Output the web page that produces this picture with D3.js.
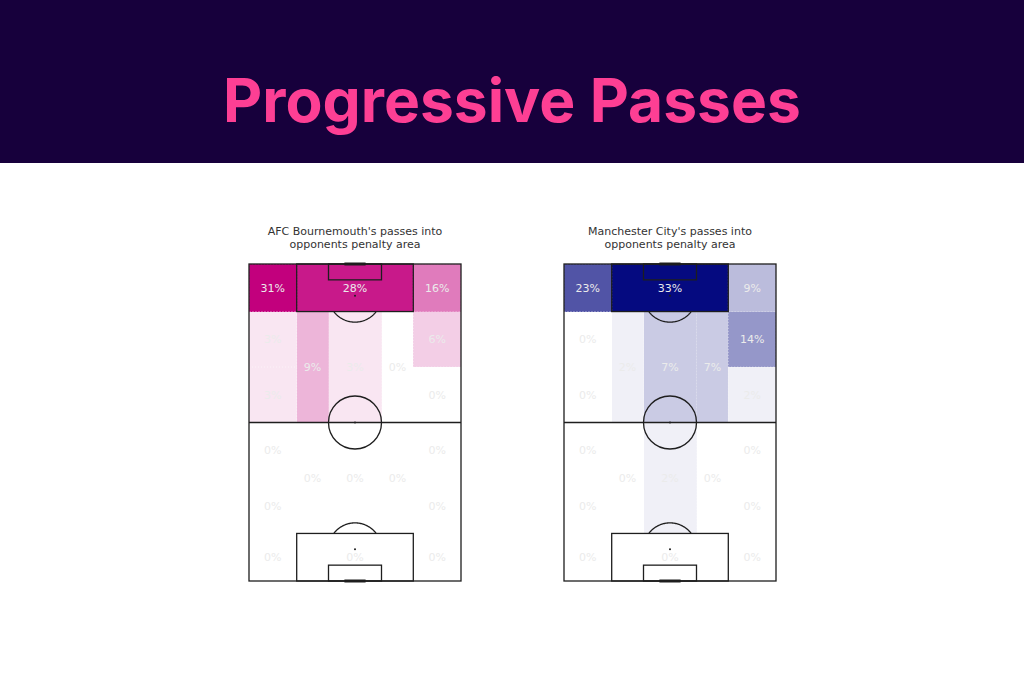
<!DOCTYPE html>
<html>
<head>
<meta charset="utf-8">
<script src="https://cdn.jsdelivr.net/npm/d3@7"></script>
<style>
  html, body { margin: 0; padding: 0; background: #ffffff; }
  svg { display: block; }
</style>
</head>
<body>
<svg id="chart" width="1024" height="683"></svg>
<script>
// ---------- DATA ----------
const chartTitle = "Progressive Passes";
const teams = ["AFC Bournemouth", "Manchester City"];
const panelTitles = [
  ["AFC Bournemouth's passes into", "opponents penalty area"],
  ["Manchester City's passes into", "opponents penalty area"]
];
// positional zones (attacking upwards)
const zones = [
  "Opp. penalty area", "Left wing (final)", "Right wing (final)",
  "Left wide upper", "Left wide lower", "Left half-space", "Centre", "Right half-space",
  "Right wide upper", "Right wide lower",
  "Own penalty area", "Left wing (own)", "Right wing (own)",
  "Own left wide upper", "Own left wide lower", "Own left half-space", "Own centre",
  "Own right half-space", "Own right wide upper", "Own right wide lower"
];
const bournemouthPct = [28, 31, 16, 3, 3, 9, 3, 0, 6, 0, 0, 0, 0, 0, 0, 0, 0, 0, 0, 0];
const manCityPct     = [33, 23, 9, 0, 0, 2, 7, 7, 14, 2, 0, 0, 0, 0, 0, 0, 2, 0, 0, 0];

// zone bounds in pitch units (StatsBomb 80 x 120, x = width, y = length)
const zoneBounds = [
  [18, 62, 102, 120], [0, 18, 102, 120], [62, 80, 102, 120],
  [0, 18, 81, 102], [0, 18, 60, 81], [18, 30, 60, 102], [30, 50, 60, 102], [50, 62, 60, 102],
  [62, 80, 81, 102], [62, 80, 60, 81],
  [18, 62, 0, 18], [0, 18, 0, 18], [62, 80, 0, 18],
  [0, 18, 39, 60], [0, 18, 18, 39], [18, 30, 18, 60], [30, 50, 18, 60], [50, 62, 18, 60],
  [62, 80, 39, 60], [62, 80, 18, 39]
];

// ---------- LAYOUT ----------
const svg = d3.select("#chart");
svg.append("rect").attr("x", 0).attr("y", 0).attr("width", 1024).attr("height", 683).attr("fill", "#ffffff");
svg.append("rect").attr("x", 0).attr("y", 0).attr("width", 1024).attr("height", 163).attr("fill", "#17003c");

const title = svg.append("text")
  .attr("x", 512).attr("y", 122)
  .attr("text-anchor", "middle")
  .attr("font-family", "Inter, 'Open Sans', sans-serif")
  .attr("font-weight", 700)
  .attr("font-size", 56)
  .attr("fill", "#fd3f94")
  .text(chartTitle);
const tw = title.node().getComputedTextLength();
title.attr("font-size", 56 * 578 / tw);

const panels = [
  { left: 249, values: bournemouthPct, dark: "#c2007d", titles: panelTitles[0] },
  { left: 564, values: manCityPct, dark: "#050a80", titles: panelTitles[1] }
];

const lineColor = "#1e1e1e";

panels.forEach(p => {
  const x = d3.scaleLinear().domain([0, 80]).range([p.left, p.left + 212]);
  const y = d3.scaleLinear().domain([0, 120]).range([581, 264]);
  const r = d => x(d) - x(0);
  const color = d3.scaleLinear().domain([0, d3.max(p.values)]).range(["#ffffff", p.dark])
    .interpolate(d3.interpolateRgb);
  const g = svg.append("g");

  // panel titles
  g.selectAll("text.ptitle").data(p.titles).enter().append("text")
    .attr("class", "ptitle")
    .attr("x", x(40)).attr("y", (d, i) => 235 + i * 13)
    .attr("text-anchor", "middle")
    .attr("font-family", "'DejaVu Sans', sans-serif")
    .attr("font-size", 11)
    .attr("fill", "#333333")
    .text(d => d);

  const cells = zones.map((z, i) => ({ name: z, v: p.values[i], b: zoneBounds[i] }));

  // heatmap fills
  g.selectAll("rect.cell").data(cells).enter().append("rect")
    .attr("class", "cell")
    .attr("x", d => x(d.b[0])).attr("y", d => y(d.b[3]))
    .attr("width", d => x(d.b[1]) - x(d.b[0]))
    .attr("height", d => y(d.b[2]) - y(d.b[3]))
    .attr("shape-rendering", "crispEdges")
    .attr("fill", d => color(d.v));

  // dotted cell edges
  g.selectAll("rect.edge").data(cells).enter().append("rect")
    .attr("class", "edge")
    .attr("x", d => x(d.b[0])).attr("y", d => y(d.b[3]))
    .attr("width", d => x(d.b[1]) - x(d.b[0]))
    .attr("height", d => y(d.b[2]) - y(d.b[3]))
    .attr("fill", "none").attr("stroke", "#ffffff").attr("stroke-opacity", 0.3)
    .attr("stroke-width", 1).attr("stroke-dasharray", "1,2");

  // pitch lines
  const lines = g.append("g").attr("fill", "none").attr("stroke", lineColor).attr("stroke-width", 1.3);
  lines.append("line").attr("x1", x(0)).attr("x2", x(80)).attr("y1", y(60)).attr("y2", y(60));
  lines.append("circle").attr("cx", x(40)).attr("cy", y(60)).attr("r", r(10));
  [[120, -1], [0, 1]].forEach(([gl, dir]) => {
    // penalty area
    lines.append("rect").attr("x", x(18)).attr("width", x(62) - x(18))
      .attr("y", dir < 0 ? y(120) : y(18)).attr("height", y(0) - y(18));
    // six-yard box
    lines.append("rect").attr("x", x(30)).attr("width", x(50) - x(30))
      .attr("y", dir < 0 ? y(120) : y(6)).attr("height", y(0) - y(6));
    // penalty arc
    const spot = gl + dir * 12;
    const a = Math.acos(6 / 10);
    const pts = d3.range(-a, a + 1e-9, a / 30).map(t => [40 + 10 * Math.sin(t), spot + dir * 10 * Math.cos(t)]);
    lines.append("path").attr("d", d3.line().x(d => x(d[0])).y(d => y(d[1]))(pts));
    // penalty spot
    g.append("circle").attr("cx", x(40)).attr("cy", y(spot)).attr("r", 1).attr("fill", lineColor);
    // goal
    g.append("line").attr("x1", x(36)).attr("x2", x(44)).attr("y1", y(gl)).attr("y2", y(gl))
      .attr("stroke", lineColor).attr("stroke-width", 3);
  });
  g.append("circle").attr("cx", x(40)).attr("cy", y(60)).attr("r", 1).attr("fill", lineColor);

  // pitch outline
  g.append("rect").attr("x", x(0)).attr("y", y(120))
    .attr("width", x(80) - x(0)).attr("height", y(0) - y(120))
    .attr("fill", "none").attr("stroke", lineColor).attr("stroke-width", 1.3);

  // labels
  g.selectAll("text.lab").data(cells).enter().append("text")
    .attr("class", "lab")
    .attr("x", d => x((d.b[0] + d.b[1]) / 2))
    .attr("y", d => y((d.b[2] + d.b[3]) / 2))
    .attr("dy", "0.36em")
    .attr("text-anchor", "middle")
    .attr("font-family", "'DejaVu Sans', sans-serif")
    .attr("font-size", 11)
    .attr("fill", "#ebebeb")
    .text(d => d.v + "%");
});
</script>
</body>
</html>
